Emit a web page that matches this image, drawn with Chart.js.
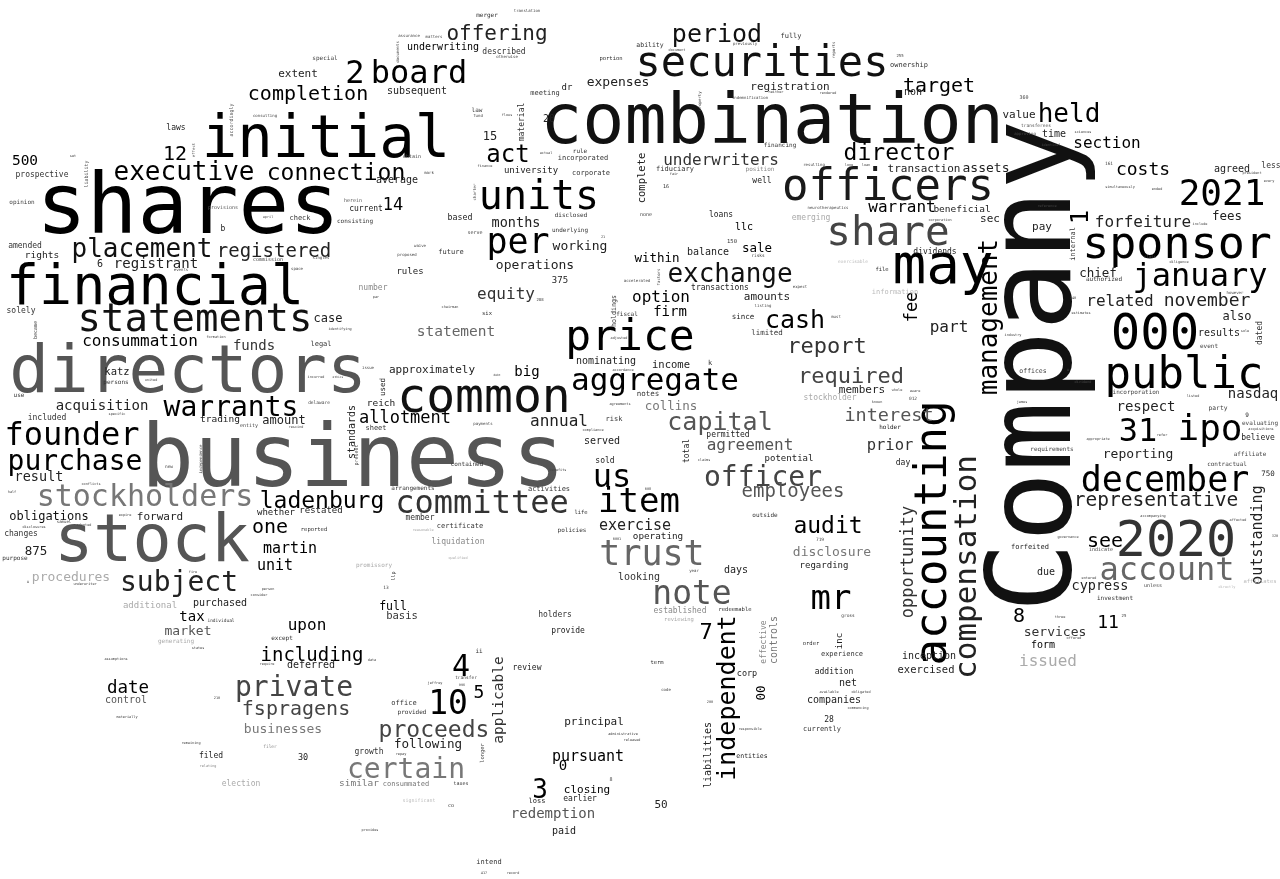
<!DOCTYPE html>
<html>
<head>
<meta charset="utf-8">
<script src="https://cdn.jsdelivr.net/npm/chart.js@4/dist/chart.umd.min.js"></script>
<style>
html,body{margin:0;padding:0;background:#fff;}
#wrap{width:1280px;height:879px;position:relative;}
</style>
</head>
<body>
<div id="wrap"><canvas id="c"></canvas></div>
<script>
const words = [
"combination","shares","Company","business","directors","stock","initial","financial","securities","officers",
"share","may","price","common","sponsor","public","000","2020","december","statements",
"units","ipo","31","2021","january","aggregate","committee","item","us","trust",
"accounting","compensation","account","note","mr","independent","private","certain","proceeds","founder",
"warrants","purchase","stockholders","ladenburg","subject","placement","executive","connection","period","exchange",
"capital","officer","audit","cash","board","2","held","target","director","management",
"report","required","per","act","statement","representative","10","4","3","completion",
"offering","underwriters","employees","interest","agreement","prior","one","including","fspragens","allotment",
"annual","forfeiture","section","costs","related","november","opportunity","outstanding","consummation","pursuant",
"warrant","upon","option","equity","part","issued","months","martin","unit","exercise",
"fee","applicable","see","8","11","7","12","14","500","5",
"date","big","firm","tax","0","expenses","registered","registrant","acquisition","funds",
"result","obligations","procedures","market","businesses","control","following","redemption","disclosure","collins",
"nasdaq","respect","reporting","cypress","services","form","chief","fees","sec","assets",
"pay","value","time","agreed","less","also","results","dated","believe","750",
"due","forfeited","investment","sale","llc","within","balance","dividends","beneficial","transaction",
"registration","non","fully","ownership","well","fiduciary","position","emerging","loans","transactions",
"information","complete","amounts","since","limited","income","members","stockholder","notes","permitted",
"potential","holder","day","total","outside","regarding","days","operating","looking","served",
"sold","nominating","risk","policies","life","activities","arrangements","contained","member","certificate",
"liquidation","approximately","reich","standards","used","sheet","six","fiscal","holdings","case",
"legal","katz","persons","solely","use","included","trading","amount","whether","restated",
"reported","forward","changes","875","purpose","additional","purchased","individual","except","generating",
"deferred","filed","30","election","filer","full","basis","holders","provide","review",
"office","provided","principal","growth","similar","consummated","closing","earlier","loss","paid",
"intend","50","liabilities","entities","currently","28","companies","net","addition","corp",
"00","experience","inc","order","inception","exercised","effective","controls","established","redeemable",
"reviewing","term","underwriting","described","subsequent","meeting","dr","merger","portion","material",
"20","15","law","rule","incorporated","university","corporate","average","current","consisting",
"based","disclosed","underlying","working","future","operations","rules","375","number","extent",
"laws","prospective","opinion","check","b","amended","rights","6","provisions","herein",
"accordingly","liability","special","ability","1","internal","authorized","offices","requirements","incorporation",
"party","evaluating","affiliate","contractual","event","indicate","affiliates","unless","9","360",
"transferees","161","financing","150","16","none","file","k","ii","taxes",
"consulting","effect","set","april","commission","space","events","singles","assurance","matters",
"documents","otherwise","translation","fund","flows","actual","finance","obtain","mark","charter",
"serve","waive","proposed","21","accelerated","previously","document","reports","255","neither",
"rendered","indemnification","property","resulting","long","loan","fair","neurotherapeutics","corporation","risks",
"exercisable","factors","expect","approving","sciences","identical","president","every","simultaneously","ended",
"reference","include","class","diligence","formation","became","united","incurred","specific","delaware",
"entity","rescind","independence","new","conflicts","half","expire","samuel","adopted","disclosures",
"x","fire","underwriter","par","chairman","288","identifying","adjusted","issue","ethics",
"debt","accordance","agreements","payments","compliance","present","benefits","reasonable","0001","qualified",
"promissory","llp","listing","must","whole","aware","012","known","claims","719",
"year","008","however","740","estimates","industry","sole","dividend","u","listed",
"james","acquisitions","refer","appropriate","accompanying","affected","governance","320","entered","directly",
"three","25","offered","person","consider","states","assumptions","require","210","materially",
"remaining","relating","13","data","transfer","jeffrey","996","repay","longer","significant",
"co","provides","417","record","administrative","released","gross","code","available","obligated",
"commencing","200","responsible","8"
];

const wordX = [
772,188,1070,353,188,152,326,155,762,888,
888,943,630,484,1177,1184,1155,1176,1165,195,
539,1210,1138,1222,1200,655,482,639,612,652,
946,976,1167,692,831,735,294,406,434,72,
231,75,145,322,179,142,184,336,717,730,
720,763,828,795,419,355,1069,939,899,997,
827,851,518,508,456,1156,448,461,540,308,
497,721,793,889,750,890,270,312,296,405,
559,1143,1107,1143,1120,1207,913,1262,140,588,
902,307,661,506,949,1048,516,290,275,635,
917,503,1105,1019,1108,706,175,393,25,479,
128,527,670,192,563,618,274,156,102,254,
39,49,71,188,283,126,428,553,832,671,
1253,1146,1138,1100,1055,1043,1098,1227,990,986,
1042,1019,1054,1232,1271,1237,1219,1262,1258,1268,
1046,1030,1115,757,744,657,708,935,962,924,
790,913,791,909,762,675,760,811,721,720,
895,645,767,743,767,671,862,830,648,728,
789,890,903,689,765,824,736,658,639,602,
605,606,614,572,581,549,413,467,420,460,
458,432,381,355,385,376,487,627,616,328,
321,117,116,21,19,47,220,284,276,321,
314,160,21,36,15,150,220,221,282,176,
311,211,303,241,270,393,402,555,568,527,
404,412,594,369,359,406,587,580,537,564,
489,661,711,752,822,829,834,848,834,747,
765,842,842,811,929,926,766,777,680,735,
679,657,443,504,417,545,567,487,611,524,
549,490,477,580,583,531,591,397,366,355,
460,571,570,580,451,535,410,560,373,298,
176,42,22,300,223,25,42,100,223,353,
233,88,325,650,1088,1075,1104,1033,1052,1136,
1218,1260,1250,1227,1209,1101,1260,1153,1247,1024,
1036,1109,780,732,666,646,882,710,479,461,
265,195,73,268,268,297,181,321,409,434,
399,507,527,478,507,546,485,412,429,476,
475,420,407,603,637,745,677,835,900,776,
828,750,701,814,849,866,674,828,940,758,
853,660,800,1025,1083,1051,1252,1269,1120,1157,
1047,1200,1150,1179,216,37,151,316,117,319,
249,296,202,169,91,12,125,64,84,34,
28,193,85,376,450,540,340,619,368,338,
497,623,620,483,593,358,558,423,617,458,
374,395,763,836,897,915,913,877,704,820,
694,648,1235,1073,1081,1013,1245,1083,1068,1193,
1022,1261,1162,1098,1153,1238,1068,1275,1089,1227,
1060,1124,1074,268,259,198,116,267,217,127,
191,208,386,372,466,435,462,401,484,419,
451,370,484,513,623,632,848,666,829,861,
858,710,750,611
];

const wordY = [
143,233,366,486,392,561,157,304,76,200,
245,283,350,412,258,388,349,556,491,331,
209,440,441,205,286,390,513,512,487,565,
533,567,580,604,609,698,696,778,737,445,
416,470,506,508,591,257,180,180,42,282,
430,486,533,328,83,83,122,92,160,317,
353,383,253,162,336,506,714,676,798,100,
40,165,497,421,450,450,533,661,715,423,
426,227,148,175,306,306,562,535,346,761,
212,630,302,299,332,666,227,553,570,530,
307,700,547,622,628,639,160,210,165,698,
693,376,316,621,770,86,257,268,410,350,
481,520,581,635,733,703,748,818,556,410,
398,411,458,590,636,648,277,220,222,172,
230,118,137,172,168,320,336,333,440,476,
575,549,600,252,230,262,255,254,212,172,
90,95,38,67,183,171,171,220,217,290,
294,178,300,319,335,368,393,400,396,437,
461,429,465,451,517,568,573,539,580,444,
463,364,421,532,514,491,490,466,520,528,
544,373,406,432,387,430,315,316,311,322,
346,375,384,313,397,420,422,424,515,513,
531,520,536,555,560,608,606,622,640,643,
668,758,760,786,748,610,619,617,633,670,
705,714,725,754,786,786,793,801,803,834,
864,808,755,758,731,722,703,686,674,676,
693,656,641,645,659,673,642,640,613,611,
621,664,50,54,94,95,90,17,60,122,
122,140,112,153,160,173,175,183,211,223,
220,217,232,250,254,269,274,283,290,77,
130,177,204,220,231,248,258,267,209,202,
120,174,60,47,217,244,281,373,451,394,
410,425,456,466,348,551,583,587,417,99,
127,165,147,243,188,216,271,365,653,785,
117,150,157,218,261,270,271,259,37,38,
52,58,12,117,116,154,167,158,174,192,
234,247,256,238,282,45,51,50,57,93,
94,99,101,166,166,166,175,209,221,257,
263,277,288,135,133,146,174,182,188,190,
207,225,258,263,338,330,381,378,415,404,
427,428,459,468,485,493,516,523,526,528,
583,573,585,298,308,301,330,339,369,378,
376,371,405,425,431,455,471,531,540,559,
567,576,307,318,391,392,400,403,461,541,
572,490,294,299,314,336,332,383,371,397,
403,430,436,440,517,521,538,537,579,588,
618,617,639,590,596,649,660,665,699,718,
744,767,589,661,679,684,686,755,753,802,
807,831,874,874,735,741,617,691,693,693,
709,703,730,781
];

const weights = [
70,84,117,88,66,65,59,55,42,44,
41,56,43,48,45,44,49,50,35,39,
40,36,32,36,32,31,32,34,32,35,
44,31,32,33,34,25,28,28,23,32,
28,28,30,23,28,26,26,23,25,26,
25,28,23,25,32,32,26,20,23,26,
22,22,35,24,14.5,19.5,33,30,26,20,
21,16,19,18.5,16,15.5,20,19,20,17,
16,16,16,18,16,18,17,15,16,15,
16,16,16,16,16,16,13.5,15,15,15,
17,14.5,20,20,18,22,20,17,14.5,18,
17.5,14,14,14,14,13,19,14,14,14,
13.5,12,13,13,13,10,12.6,14,13,12.5,
14,14,13,13.5,13,10,12.5,12.5,11,13,
11,11,10,10,8,12,10,8,8,7.5,
10,7,6,12.5,10,12.5,10,8,9.5,11,
11,10,7,7,8,7,6,8,8,8,
7,10.5,11,7.5,7.5,10.5,11,8,7.5,8,
9,6,8,8,6,9,10,9.3,10,10,
8,10,7,6,5.5,7,6,6,8,7,
8,11,9.5,10,7.5,7,5.5,6,6.7,12,
7,10.5,6,8,6,8,9.5,12,9,9,
5.5,11,8,12.5,6,9,10,4.5,6,6,
10,8,8.5,8,4.5,11.5,10.5,8,8,8,
7,6,11,8,9.5,7,11,8,7,10,
7,11,10,6.5,7,8,10,10,8,8.5,
12.5,7,9,5.5,10,10.5,8,10,8,5.5,
5.5,5.5,10,8,10,7,9,6,5.5,8,
10,12,6,6,7,9,7,10,8,6,
8.3,6,6,13,7,13,9,9,8,11,
8,8,6,7,8,8,9.5,10,5,5,
5,5,6,6.5,24,7,6,6.5,6,6,
6.3,6,6,6,6,5,5.5,5,6,5,
4.5,4.5,6,5.5,5,5,5.5,7,6,5,
4,4,3.5,3.5,5,4,4,4,4,4,
4,4,4,4,3.5,3.5,3.5,5,4,4,
5,4,4,3.5,4,4,3.5,4,4,3.5,
3.5,4,4,4,3.5,3.5,3.5,4,3.5,4.5,
4.5,4,4,4,3.5,3.5,3.5,3.5,3.5,3.5,
3.5,3.5,4,3.5,3.5,5,3.5,3.5,3.5,4.5,
5,3.5,4,4.5,3.5,3.5,3.5,4,3.5,3.5,
4,3.5,3.5,3.5,3.5,4,3.5,3.5,4,3,
3,3.5,3.5,4,3.5,5,3.5,3.5,3.5,3.5,
6,5,4,4,3.5,3.5,4.5,3.5,3.5,4.5,
4,3.5,4,3.5,3.5,3.5,3.5,3.5,4,3.5,
3.5,3.5,3.5,3.5,3.5,3.5,3.5,3.5,3.5,3.5,
3.5,4,3.5,3.5,3.5,3.5,3.5,3.5,3.5,3.5,
3.5,3.5,4.5,3.5,4.5,3.5,3.5,3.5,5.5,5,
5,3.5,3.5,3.5,3.5,3.5,4.5,4,3.5,3.5,
3.5,3.5,3.5,5
];

const tones = [
17,0,17,85,85,85,0,0,17,25,
68,0,0,17,0,0,0,51,0,17,
0,0,0,0,0,0,51,0,0,102,
0,34,102,85,0,0,68,119,68,0,
0,0,119,0,34,17,0,0,17,17,
85,68,0,0,0,0,0,0,0,0,
51,68,0,0,102,34,0,0,0,0,
34,51,85,85,85,51,0,0,68,0,
34,34,0,0,34,34,51,34,0,0,
0,0,0,51,34,170,34,0,0,34,
0,51,0,0,0,0,0,0,0,0,
0,0,0,0,0,34,34,34,34,51,
34,17,170,85,119,85,34,85,119,119,
34,34,34,34,51,0,34,34,34,34,
34,34,34,34,51,34,34,51,34,34,
34,34,51,0,0,0,34,34,34,34,
34,34,51,51,34,51,136,170,34,34,
187,34,34,34,51,34,34,170,51,34,
34,34,34,34,51,34,34,34,51,34,
34,34,51,51,51,51,51,51,51,51,
136,34,34,34,34,51,51,51,51,34,
51,34,51,51,51,51,34,34,34,34,
51,34,51,34,51,170,34,51,51,170,
34,34,34,170,136,0,51,51,34,34,
51,51,34,51,119,119,0,34,34,34,
51,34,34,34,51,34,34,34,34,34,
0,51,34,51,34,34,136,119,136,51,
170,51,0,51,34,51,34,51,51,51,
34,34,51,51,51,34,51,34,34,51,
34,51,51,34,51,34,34,34,136,34,
34,51,68,51,34,51,34,34,85,85,
85,85,68,51,0,51,51,68,68,68,
68,68,68,68,68,68,187,68,34,68,
85,68,51,51,51,68,51,51,51,51,
68,85,68,85,68,68,68,68,68,68,
68,68,68,68,68,68,68,68,68,68,
68,68,68,68,68,68,68,68,68,68,
68,68,68,68,68,68,68,68,68,68,
187,68,68,68,68,68,68,68,68,68,
68,68,68,68,68,68,68,68,68,68,
68,68,68,68,68,68,68,68,68,68,
68,68,68,68,68,68,68,68,68,68,
68,68,68,68,68,68,68,170,68,170,
170,68,68,68,68,68,68,68,68,68,
68,68,68,68,68,68,68,68,68,68,
68,68,68,68,68,68,68,68,68,187,
68,68,68,68,68,68,68,68,68,68,
68,136,68,68,68,68,68,68,68,187,
51,68,68,68,68,68,68,68,68,68,
68,68,68,68
];

const verticalWords = ["Company","accounting","compensation","independent","management","opportunity",
"outstanding","fee","applicable","dated","complete","total","standards","used","holdings","liabilities",
"00","inc","effective","controls","material","accordingly","liability","1","internal","effect",
"documents","charter","reports","property","factors","became","independence","present","llp","longer"];

const n = Math.min(words.length, wordX.length, wordY.length, weights.length, tones.length);
const points = [];
for (let i = 0; i < n; i++) points.push({x: wordX[i], y: wordY[i]});

const wordPlugin = {
  id: 'wordText',
  afterDatasetsDraw(chart) {
    const meta = chart.getDatasetMeta(0);
    const ctx = chart.ctx;
    ctx.save();
    ctx.textAlign = 'center';
    ctx.textBaseline = 'alphabetic';
    meta.data.forEach((el, i) => {
      const t = tones[i];
      ctx.font = weights[i] + 'px "DejaVu Sans Mono", "Liberation Mono", monospace';
      ctx.fillStyle = 'rgb(' + t + ',' + t + ',' + t + ')';
      ctx.save();
      ctx.translate(el.x, el.y);
      if (verticalWords.includes(words[i])) ctx.rotate(-Math.PI / 2);
      ctx.fillText(words[i], 0, 0);
      ctx.restore();
    });
    ctx.restore();
  }
};

new Chart(document.getElementById('c'), {
  type: 'scatter',
  data: { datasets: [{ data: points, pointRadius: 0, pointHoverRadius: 0, borderWidth: 0, backgroundColor: 'rgba(0,0,0,0)' }] },
  options: {
    responsive: true,
    maintainAspectRatio: false,
    animation: false,
    layout: { padding: 0 },
    events: [],
    plugins: { legend: { display: false }, tooltip: { enabled: false } },
    scales: {
      x: { type: 'linear', min: 0, max: 1280, display: false },
      y: { type: 'linear', min: 0, max: 879, reverse: true, display: false }
    }
  },
  plugins: [wordPlugin]
});
</script>
</body>
</html>
